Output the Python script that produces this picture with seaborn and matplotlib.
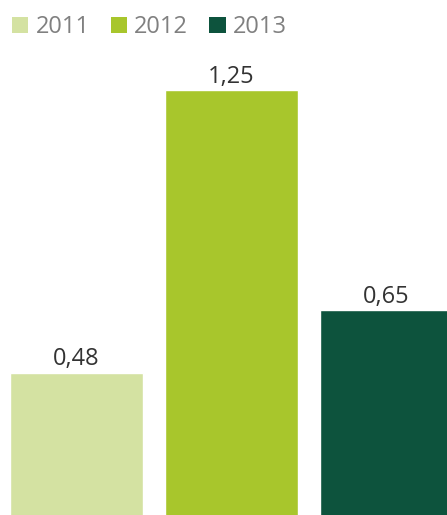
import matplotlib
matplotlib.use("Agg")
import matplotlib.pyplot as plt
import seaborn as sns
import pandas as pd
from matplotlib.patches import Patch

years = ["2011", "2012", "2013"]
values = [0.48, 1.25, 0.65]
labels = ["0,48", "1,25", "0,65"]
colors = ["#d4e2a2", "#a8c62c", "#0d533d"]

sns.set_style("white")
plt.rcParams["font.family"] = ["Open Sans", "DejaVu Sans"]

df = pd.DataFrame({"year": years, "value": values})

fig = plt.figure(figsize=(4.47, 5.15), dpi=100)
ax = fig.add_axes([0, 0, 1, 1])

sns.barplot(data=df, x="year", y="value", hue="year", palette=colors,
            width=0.858, legend=False, ax=ax, saturation=1)

ax.set_xlim(-0.4935, 2.39)
ax.set_ylim(0.092, 1.495)
ax.axis("off")

for cont, lab in zip(ax.containers, labels):
    ax.bar_label(cont, labels=[lab], padding=1, fontsize=17, color="#333333")

handles = [Patch(facecolor=c, edgecolor="none") for c in colors]
ax.legend(handles, years, loc="upper left", bbox_to_anchor=(-0.008, 1.0),
          bbox_transform=fig.transFigure, ncol=3, frameon=False,
          fontsize=17, handlelength=0.7, handleheight=0.7,
          handletextpad=0.3, columnspacing=0.9, borderaxespad=0.3,
          borderpad=0.35, labelcolor="#808080")

fig.savefig("out.png", dpi=100)
